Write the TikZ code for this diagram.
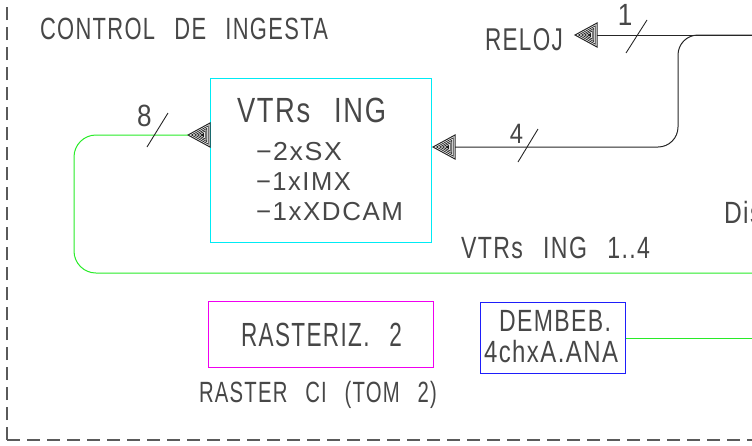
\documentclass[tikz,border=0pt]{standalone}
\usepackage{fontspec}
\setmainfont{Liberation Sans}[LetterSpace=6, WordSpace=2.6]
\usepackage{graphicx}
\newcommand{\fitw}[2]{\resizebox{#1}{\height}{#2}}
\definecolor{cadgreen}{RGB}{40,235,40}
\definecolor{cadcyan}{RGB}{0,235,245}
\definecolor{cadmag}{RGB}{240,0,240}
\definecolor{cadblue}{RGB}{30,30,250}
\definecolor{framegray}{RGB}{90,90,90}
\tikzset{
  lbl/.style={inner sep=0pt, outer sep=0pt, anchor=base west, text=black!72},
  numlbl/.style={inner sep=0pt, outer sep=0pt, anchor=base, text=black!72},
  fs/.style={font=\fontsize{#1}{#1}\selectfont},
  wire/.style={draw=black!85, line width=1pt},
  gwire/.style={draw=cadgreen, line width=1pt},
  slash/.style={draw=black!85, line width=0.9pt},
  boxc/.style={draw=#1, line width=1pt, inner sep=0pt, anchor=north west},
  frame/.style={draw=framegray, line width=1.4pt, dash pattern=on 13pt off 7pt},
  termtri/.pic={
    \draw[black!85, line width=1pt]
        (0,0) -- (22,12) -- (22,-12) -- cycle;
    \foreach \s in {0.76,0.54,0.34}
      \draw[black!85, line width=0.75pt, shift={(14.67,0)}, scale=\s]
        (-14.67,0) -- (7.33,12) -- (7.33,-12) -- cycle;
    \fill[black!90, shift={(14.67,0)}, scale=0.18]
        (-14.67,0) -- (7.33,12) -- (7.33,-12) -- cycle;
  }
}
\begin{document}
\begin{tikzpicture}[x=1pt,y=-1pt]
\useasboundingbox (0,0) rectangle (752,445);
\clip (0,0) rectangle (752,445);

% frame
\coordinate (fc) at (7,440);
\coordinate (ftop) at (7,-5);
\coordinate (fright) at (760,440);
\draw[frame] (fc) -- (ftop);
\draw[frame] (fc) -- (fright);

% title
\node[lbl, fs=30.7] (title) at (40,39) {\fitw{288pt}{CONTROL DE INGESTA}};

% boxes
\node[boxc=cadcyan, minimum width=221pt, minimum height=164pt] (vtr) at (210,78) {};
\node[boxc=cadmag, minimum width=225pt, minimum height=66pt] (rast) at (208,301) {};
\node[boxc=cadblue, minimum width=145pt, minimum height=71pt] (demb) at (480,302) {};

% box texts
\node[lbl, fs=35] (vtrt) at (237,122) {\fitw{149pt}{VTRs ING}};
\node[lbl, fs=26] (sx) at (256,160) {\fitw{86pt}{−2xSX}};
\node[lbl, fs=26] (imx) at (256,190) {\fitw{95pt}{−1xIMX}};
\node[lbl, fs=26] (xdc) at (256,220) {\fitw{147pt}{−1xXDCAM}};
\node[lbl, fs=33.5] (rastt) at (241,346) {\fitw{161pt}{RASTERIZ. 2}};
\node[lbl, fs=29.3] (rastci) at (199,402) {\fitw{238pt}{RASTER CI (TOM 2)}};
\node[lbl, fs=30.7] (dembt) at (499,331) {\fitw{112pt}{DEMBEB.}};
\node[lbl, fs=30.7] (chx) at (484,362) {\fitw{134pt}{4chxA.ANA}};

% other labels
\node[lbl, fs=31.5] (reloj) at (485,50) {\fitw{78pt}{RELOJ}};
\node[lbl, fs=30.7] (ing14) at (461,258) {\fitw{189pt}{VTRs ING 1..4}};
\node[lbl, fs=30.7] (dis) at (724,223) {\scalebox{0.8}[1]{Dis}};

% arrowheads
\coordinate (a8tip) at (188,135);
\coordinate (rtip) at (575,35);
\coordinate (rbase) at (597,35);
\coordinate (a4tip) at (433,147);
\coordinate (a4base) at (455,147);
\pic at (a8tip) {termtri};
\pic at (rtip) {termtri};
\pic at (a4tip) {termtri};

% black wires
\coordinate (ein1) at (760,35);
\coordinate (bend) at (678,35);
\coordinate (bend2) at (678,147);
\draw[wire] (ein1) -- (rbase);
\draw[wire, rounded corners=20pt] (ein1) -- (bend) -- (bend2) -- (a4base);

% green wires
\coordinate (gl) at (74,273);
\coordinate (eout) at (760,273);
\draw[gwire, rounded corners=22pt] (a8tip) -| (gl) -- (eout);
\draw[gwire] (demb.east) -- (demb.east -| eout);

% bus slashes and counts
\coordinate (s1a) at (626,53); \coordinate (s1b) at (647,20);
\coordinate (s4a) at (518,162); \coordinate (s4b) at (538,129);
\coordinate (s8a) at (147,147); \coordinate (s8b) at (168,113);
\draw[slash] (s1a) -- (s1b);
\draw[slash] (s4a) -- (s4b);
\draw[slash] (s8a) -- (s8b);
\node[numlbl, fs=30.7] (n1) at (625,25) {\scalebox{0.85}[1]{1}};
\node[numlbl, fs=28] (n4) at (516.5,143) {\scalebox{0.85}[1]{4}};
\node[numlbl, fs=30.7] (n8) at (144.5,126) {\scalebox{0.85}[1]{8}};
\end{tikzpicture}
\end{document}
